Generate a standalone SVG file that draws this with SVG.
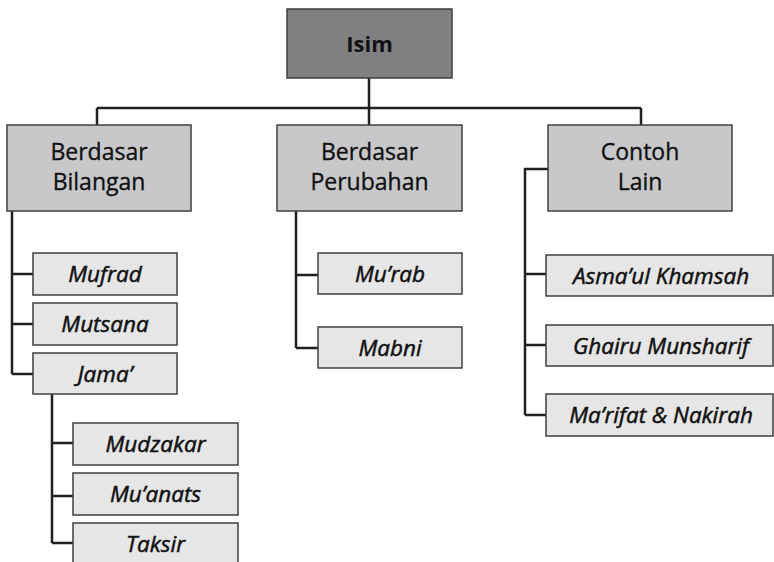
<svg xmlns="http://www.w3.org/2000/svg" width="774" height="562" viewBox="0 0 774 562">
<style>
.bx{stroke:#3f3f41;stroke-width:1.5}
.l0{fill:#808083}
.l1{fill:#c8c8ca}
.l2{fill:#e6e6e7}
.t0{font-family:"Open Sans","Liberation Sans",sans-serif;font-size:22px;font-weight:bold;fill:#111;text-anchor:middle}
.t1{font-family:"Open Sans","Liberation Sans",sans-serif;font-size:23px;fill:#111;stroke:#111;stroke-width:0.35;text-anchor:middle}
.t2{font-family:"Open Sans","Liberation Sans",sans-serif;font-size:22.5px;font-style:italic;fill:#111;stroke:#111;stroke-width:0.5;text-anchor:middle}
.cn{fill:none;stroke:#231f20;stroke-width:2.5}
</style>
<rect width="774" height="562" fill="#fff"/>
<g id="connectors" class="cn">
<path d="M369 78V108M97 108H641M97 108V125M369 108V125M641 108V125"/>
<path d="M12 211V374M12 274H33M12 324H33M12 374H33"/>
<path d="M52 394V543M52 443H73M52 496H73M52 543H73"/>
<path d="M296 211V348M296 275H318M296 348H318"/>
<path d="M548 169H525V415M525 274H546M525 345H546M525 415H546"/>
</g>
<g id="isim"><rect class="bx l0" x="287" y="9" width="165" height="69"/><text class="t0" x="369.5" y="52">Isim</text></g>
<g id="bilangan"><rect class="bx l1" x="7" y="125" width="184" height="86"/><text class="t1" x="99" y="160">Berdasar</text><text class="t1" x="99" y="190">Bilangan</text></g>
<g id="perubahan"><rect class="bx l1" x="277" y="125" width="185" height="86"/><text class="t1" x="369.5" y="160">Berdasar</text><text class="t1" x="369.5" y="190">Perubahan</text></g>
<g id="contoh"><rect class="bx l1" x="548" y="125" width="184" height="86"/><text class="t1" x="640" y="160">Contoh</text><text class="t1" x="640" y="190">Lain</text></g>
<g id="mufrad"><rect class="bx l2" x="33" y="253" width="144" height="42"/><text class="t2" x="105" y="282">Mufrad</text></g>
<g id="mutsana"><rect class="bx l2" x="33" y="303" width="144" height="42"/><text class="t2" x="105" y="332">Mutsana</text></g>
<g id="jama"><rect class="bx l2" x="33" y="353" width="144" height="41"/><text class="t2" x="105" y="382">Jama’</text></g>
<g id="mudzakar"><rect class="bx l2" x="73" y="423" width="165" height="42"/><text class="t2" x="155.5" y="452">Mudzakar</text></g>
<g id="muanats"><rect class="bx l2" x="73" y="473" width="165" height="42"/><text class="t2" x="155.5" y="502">Mu’anats</text></g>
<g id="taksir"><rect class="bx l2" x="73" y="523" width="165" height="42"/><text class="t2" x="155.5" y="552">Taksir</text></g>
<g id="murab"><rect class="bx l2" x="318" y="253" width="144" height="41"/><text class="t2" x="390" y="282">Mu’rab</text></g>
<g id="mabni"><rect class="bx l2" x="318" y="327" width="144" height="41"/><text class="t2" x="390" y="356">Mabni</text></g>
<g id="asmaul"><rect class="bx l2" x="546" y="255" width="227" height="41"/><text class="t2" x="661" y="284">Asma’ul Khamsah</text></g>
<g id="ghairu"><rect class="bx l2" x="546" y="325" width="227" height="41"/><text class="t2" x="661" y="354">Ghairu Munsharif</text></g>
<g id="marifat"><rect class="bx l2" x="546" y="394" width="227" height="42"/><text class="t2" x="661" y="423">Ma’rifat &amp; Nakirah</text></g>
</svg>
